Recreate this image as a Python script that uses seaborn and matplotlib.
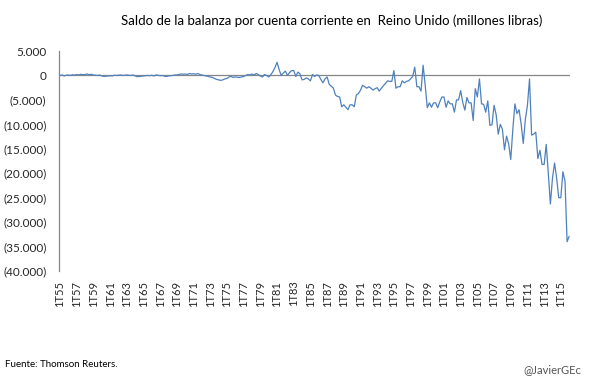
import numpy as np
import pandas as pd
import matplotlib
matplotlib.use("Agg")
import matplotlib.pyplot as plt
from matplotlib.ticker import FuncFormatter
import seaborn as sns

# quarterly current account balance, millions GBP, 1T55 .. 1T16
saldo_1955_1979 = [
    0, 100, -100, 50,
    100, 0, 150, 50,
    200, 100, 250, 150,
    200, 300, 150, 250,
    100, 50, 0, 100,
    -100, -200, -150, -100,
    -50, -100, 50, 0,
    50, 100, 0, 50,
    100, 50, 0, 100,
    -100, -250, -200, -150,
    -100, -50, 0, -50,
    50, -100, 100, 50,
    -50, 0, -150, -200,
    -100, -50, 0, 100,
    100, 200, 300, 250,
    300, 200, 400, 300,
    350, 250, 400, 200,
    100, 0, -100, -200,
    -300, -400, -600, -800,
    -900, -1000, -900, -700,
    -600, -300, -200, -400,
    -300, -350, -400, -300,
    -200, 0, 200, 100,
    300, 100, 400, 200,
    -100, -300, 200, 0,
]
saldo_1980_1999 = [
    -300, 100, 800, 1600,
    2700, 1200, 0, 500,
    900, 0, 600, 1000,
    1000, -200, 700, 300,
    -900, -800, -500, -700,
    -1100, 200, -200, 100,
    0, -800, -1500, -700,
    -300, -1800, -2200, -2600,
    -4000, -4300, -4400, -6400,
    -6000, -6500, -7000, -6000,
    -6000, -6400, -4000, -3700,
    -3000, -2000, -2300, -2600,
    -2300, -2600, -3000, -2700,
    -2500, -3200, -2600, -2100,
    -1600, -1100, -1200, -1200,
    1000, -2600, -2300, -2300,
    -1100, -1500, -1200, -1100,
    -700, -200, 1700, -2300,
    -2300, -3200, 2100, -2000,
    -6600, -5600, -6500, -5600,
]
saldo_2000_2016 = [
    -5600, -6600, -5400, -4400,
    -4400, -6500, -5200, -5800,
    -5800, -7500, -5000, -5000,
    -3100, -5500, -7100, -4500,
    -5600, -5600, -9200, -2700,
    -4400, -700, -5800, -5900,
    -7500, -5200, -10200, -10100,
    -6100, -8000, -12000, -10000,
    -11000, -15200, -12400, -14000,
    -17200, -11000, -5800, -7800,
    -7000, -10000, -13900, -9000,
    -6100, -700, -12200, -12000,
    -11600, -17000, -15300, -18200,
    -18200, -14100, -20000, -26300,
    -21000, -17900, -21000, -25000,
    -25000, -19700, -21600, -34000,
    -32900,
]
saldo = saldo_1955_1979 + saldo_1980_1999 + saldo_2000_2016

periodos = [f"{q}T{y % 100:02d}" for y in range(1955, 2017) for q in range(1, 5)][:len(saldo)]
df = pd.DataFrame({"idx": range(len(saldo)), "periodo": periodos, "saldo": saldo})

sns.set_style("white")
plt.rcParams["font.family"] = ["Lato", "DejaVu Sans"]

fig = plt.figure(figsize=(6.05, 3.78), dpi=100)
ax = fig.add_axes([0.0975, 0.283, 0.845, 0.582])

sns.lineplot(data=df, x="idx", y="saldo", color="#4F81BD", linewidth=0.9, ax=ax)
ax.axhline(0, color="#868686", linewidth=0.9, zorder=1)

ax.set_xlim(-0.5, len(saldo) - 0.5)
ax.set_ylim(-40000, 5000)
ax.set_yticks(np.arange(-40000, 5001, 5000))


def fmt_miles(v, pos):
    s = f"{abs(v):,.0f}".replace(",", ".")
    return f"({s})" if v < 0 else s


ax.yaxis.set_major_formatter(FuncFormatter(fmt_miles))
ticks = list(range(0, len(saldo), 8))
ax.set_xticks(ticks)
ax.set_xticklabels([periodos[i] for i in ticks], rotation=90)
ax.tick_params(axis="x", length=0, pad=7, labelsize=8)
ax.tick_params(axis="y", length=0, pad=9, labelsize=8.5)
ax.set_xlabel("")
ax.set_ylabel("")

for side in ["top", "right", "bottom"]:
    ax.spines[side].set_visible(False)
ax.spines["left"].set_color("#868686")
ax.spines["left"].set_linewidth(0.9)

fig.text(0.548, 0.945, "Saldo de la balanza por cuenta corriente en  Reino Unido (millones libras)",
         ha="center", va="center", fontsize=9.5, color="black")
fig.text(0.008, 0.035, "Fuente: Thomson Reuters.", ha="left", va="center", fontsize=7, color="black")
fig.text(0.96, 0.022, "@JavierGEc", ha="right", va="center", fontsize=8, color="#555555")

fig.savefig("out.png", dpi=100)
